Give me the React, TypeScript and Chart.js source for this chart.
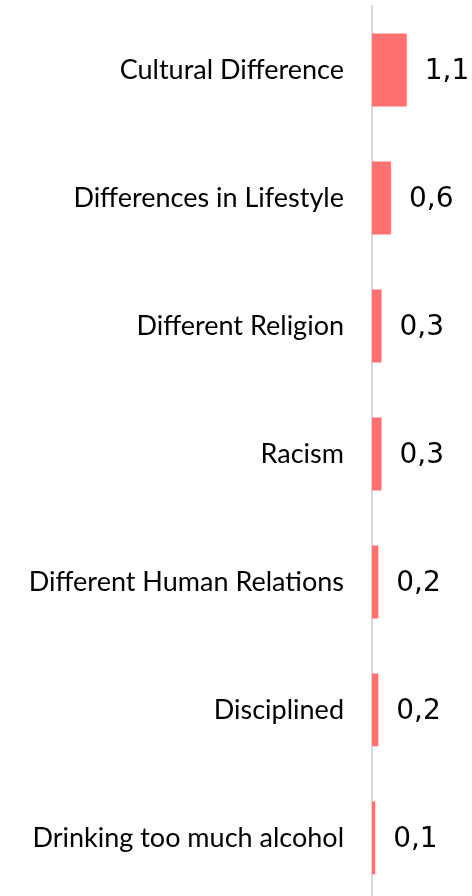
import React, { useEffect, useRef } from "react";
import { Chart, registerables } from "chart.js";

Chart.register(...registerables);

const categories = [
  "Cultural Difference",
  "Differences in Lifestyle",
  "Different Religion",
  "Racism",
  "Different Human Relations",
  "Disciplined",
  "Drinking too much alcohol",
];
const values = [1.1, 0.6, 0.3, 0.3, 0.2, 0.2, 0.1];
const valueLabels = ["1,1", "0,6", "0,3", "0,3", "0,2", "0,2", "0,1"];

const valueLabelPlugin = {
  id: "valueLabels",
  afterDatasetsDraw(chart: any) {
    const ctx = chart.ctx;
    const meta = chart.getDatasetMeta(0);
    ctx.save();
    ctx.font = "28px 'DejaVu Sans'";
    ctx.fillStyle = "#000000";
    ctx.textAlign = "left";
    ctx.textBaseline = "middle";
    meta.data.forEach((bar: any, i: number) => {
      ctx.fillText(valueLabels[i], bar.x + 18, bar.y + 2);
    });
    ctx.restore();
  },
};

export default function App() {
  const ref = useRef<HTMLCanvasElement>(null);
  useEffect(() => {
    if (!ref.current) return;
    const chart = new Chart(ref.current, {
      type: "bar",
      data: {
        labels: categories,
        datasets: [
          {
            data: values,
            backgroundColor: "#ff7070",
            borderWidth: 0,
            barPercentage: 0.57,
            categoryPercentage: 1,
          },
        ],
      },
      options: {
        indexAxis: "y",
        responsive: false,
        animation: false,
        maintainAspectRatio: false,
        layout: { padding: { top: 6, bottom: 0, left: 0, right: 0 } },
        plugins: { legend: { display: false }, tooltip: { enabled: false } },
        scales: {
          x: {
            display: false,
            min: 0,
            max: 3.17,
          },
          y: {
            grid: {
              display: true,
              drawOnChartArea: false,
              drawTicks: true,
              tickLength: 28,
              color: "rgba(0,0,0,0)",
              tickColor: "rgba(0,0,0,0)",
            },
            border: { display: true, color: "#d9d9d9", width: 2 },
            ticks: {
              padding: 0,
              color: "#000000",
              font: { family: "Lato", size: 27, lineHeight: 0.01 },
            },
            afterFit(scale: any) {
              scale.width = 372;
            },
          },
        },
      },
      plugins: [valueLabelPlugin],
    });
    return () => chart.destroy();
  }, []);
  return (
    <div style={{ position: "fixed", left: 0, top: 0, width: 472, height: 902, background: "#fff" }}>
      <canvas ref={ref} width={472} height={902} style={{ width: 472, height: 902 }} />
    </div>
  );
}
